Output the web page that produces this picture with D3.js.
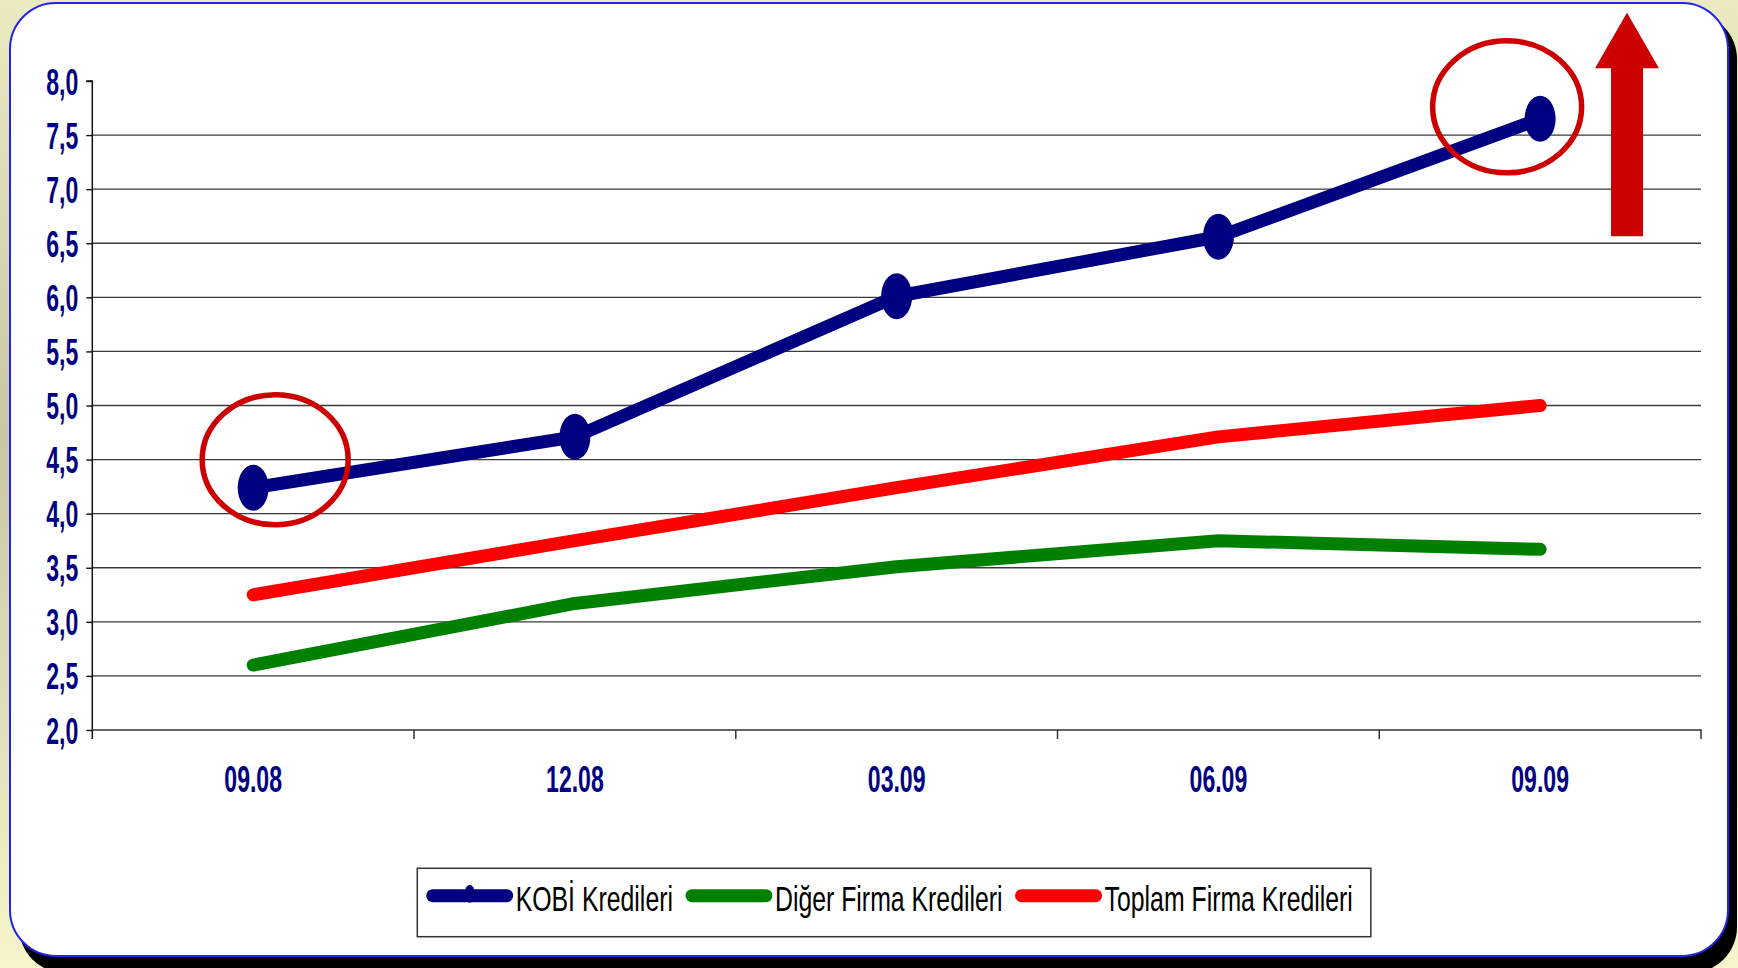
<!DOCTYPE html>
<html>
<head>
<meta charset="utf-8">
<script src="https://cdn.jsdelivr.net/npm/d3@7/dist/d3.min.js"></script>
<style>
  html, body { margin: 0; padding: 0; background: #fff; }
  svg { display: block; }
</style>
</head>
<body>
<svg id="chart" width="1738" height="968"></svg>
<script>
// ---- data ----
const categories = ["09.08", "12.08", "03.09", "06.09", "09.09"];
const kobiValues   = [4.24, 4.71, 6.01, 6.56, 7.65];
const digerValues  = [2.60, 3.17, 3.51, 3.75, 3.67];
const toplamValues = [3.25, 3.75, 4.24, 4.71, 5.00];
const seriesNames  = ["KOBİ Kredileri", "Diğer Firma Kredileri", "Toplam Firma Kredileri"];
const yTicks = [2.0, 2.5, 3.0, 3.5, 4.0, 4.5, 5.0, 5.5, 6.0, 6.5, 7.0, 7.5, 8.0];

const W = 1738, H = 968;
const FONT = "'Liberation Sans', Arial, sans-serif";
const svg = d3.select("#chart");
const defs = svg.append("defs");

// background gradient
const bg = defs.append("linearGradient").attr("id", "bg").attr("x1", 0).attr("y1", 0).attr("x2", 0).attr("y2", 1);
bg.append("stop").attr("offset", "0").attr("stop-color", "#ECEAC0");
bg.append("stop").attr("offset", "0.45").attr("stop-color", "#C9C7A3");
bg.append("stop").attr("offset", "1").attr("stop-color", "#F7F5CA");
svg.append("rect").attr("width", W).attr("height", H).attr("fill", "url(#bg)");

// panel shadow and panel
svg.append("rect").attr("x", 19).attr("y", 13).attr("width", 1718).attr("height", 960)
  .attr("rx", 46).attr("ry", 46).attr("fill", "#000");
svg.append("rect").attr("x", 10).attr("y", 3).attr("width", 1718).attr("height", 953)
  .attr("rx", 46).attr("ry", 46).attr("fill", "#fff").attr("stroke", "#2222ee").attr("stroke-width", 2);

// ---- scales ----
const plot = { left: 92.3, right: 1701, top: 81, bottom: 730 };
const x = d3.scaleBand().domain(categories).range([plot.left, plot.right]).padding(0);
const cx = d => x(d) + x.bandwidth() / 2;
const y = d3.scaleLinear().domain([2, 8]).range([plot.bottom, plot.top]);

const g = svg.append("g");

// gridlines
g.append("g").selectAll("line").data(yTicks.filter(t => t > 2 && t < 8)).join("line")
  .attr("x1", plot.left).attr("x2", plot.right)
  .attr("y1", d => y(d)).attr("y2", d => y(d))
  .attr("stroke", "#3a3a3a").attr("stroke-width", 1.4);

// y axis
const yAxis = d3.axisLeft(y).tickValues(yTicks).tickSize(6).tickPadding(8)
  .tickFormat(d => d3.format(".1f")(d).replace(".", ","));
const yg = g.append("g").attr("transform", `translate(${plot.left},0)`).call(yAxis);
yg.select(".domain").attr("stroke", "#111").attr("stroke-width", 1.5).attr("d", `M-6,${plot.top}H0V${plot.bottom + 9}`);
yg.selectAll(".tick line").attr("stroke", "#111").attr("stroke-width", 1.4);
yg.selectAll(".tick text")
  .attr("fill", "#000080").attr("font-family", FONT)
  .attr("font-weight", "bold").attr("font-size", 36).attr("dy", null)
  .attr("x", null)
  .attr("transform", "translate(-14,13) scale(0.64,1)")
  .attr("text-anchor", "end");

// x axis
const xAxis = d3.axisBottom(x).tickSize(0).tickPadding(0);
const xg = g.append("g").attr("transform", `translate(0,${plot.bottom})`).call(xAxis);
xg.select(".domain").attr("stroke", "#333").attr("stroke-width", 1.5).attr("d", `M${plot.left},0H${plot.right}V9`);
xg.selectAll(".tick text")
  .attr("fill", "#000080").attr("font-family", FONT)
  .attr("font-weight", "bold").attr("font-size", 36).attr("dy", null).attr("y", null)
  .attr("transform", "translate(0,62) scale(0.64,1)")
  .attr("text-anchor", "middle");
// boundary ticks between categories
xg.append("g").selectAll("line").data(categories.slice(1)).join("line")
  .attr("x1", d => x(d)).attr("x2", d => x(d)).attr("y1", 0).attr("y2", 9)
  .attr("stroke", "#333").attr("stroke-width", 1.5);

// ---- series ----
const series = [
  { name: seriesNames[0], values: kobiValues, color: "#000080", marker: true },
  { name: seriesNames[1], values: digerValues, color: "#008000", marker: false },
  { name: seriesNames[2], values: toplamValues, color: "#FF0000", marker: false }
];
const line = d3.line().x((d, i) => cx(categories[i])).y(d => y(d));

[series[1], series[2], series[0]].forEach(s => {
  g.append("path").datum(s.values).attr("d", line)
    .attr("fill", "none").attr("stroke", s.color).attr("stroke-width", 13)
    .attr("stroke-linecap", "round").attr("stroke-linejoin", "round");
  if (s.marker) {
    g.append("g").selectAll("ellipse").data(s.values).join("ellipse")
      .attr("cx", (d, i) => cx(categories[i])).attr("cy", d => y(d))
      .attr("rx", 15.5).attr("ry", 23).attr("fill", s.color);
  }
});

// ---- annotations ----
const hi = [
  { i: 0, dx: 22, dy: -28, rx: 73, ry: 65 },
  { i: 4, dx: -33, dy: -12, rx: 74.5, ry: 66 }
];
g.append("g").selectAll("ellipse").data(hi).join("ellipse")
  .attr("cx", d => cx(categories[d.i]) + d.dx)
  .attr("cy", d => y(kobiValues[d.i]) + d.dy)
  .attr("rx", d => d.rx).attr("ry", d => d.ry)
  .attr("fill", "none").attr("stroke", "#CC0000").attr("stroke-width", 5.5);

// up arrow
const ax = 1627;
svg.append("path")
  .attr("d", `M${ax},12.7 L${ax + 32},68.3 L${ax + 16},68.3 L${ax + 16},236.3 L${ax - 16},236.3 L${ax - 16},68.3 L${ax - 32},68.3 Z`)
  .attr("fill", "#CC0000");

// ---- legend ----
const LSX = 0.69;
const leg = svg.append("g");
const legBox = leg.append("rect").attr("x", 417.3).attr("y", 868.3).attr("height", 68.4)
  .attr("fill", "#fff").attr("stroke", "#333").attr("stroke-width", 1.5);
let lx = 426.7;
const ly = 895.7;
series.forEach((s, k) => {
  leg.append("line").attr("x1", lx + 6).attr("x2", lx + 80).attr("y1", ly).attr("y2", ly)
    .attr("stroke", s.color).attr("stroke-width", 13).attr("stroke-linecap", "round");
  if (s.marker) {
    leg.append("ellipse").attr("cx", lx + 43).attr("cy", ly - 2).attr("rx", 5).attr("ry", 9).attr("fill", s.color);
  }
  const t = leg.append("text")
    .attr("transform", `translate(${lx + 89},910.7) scale(${LSX},1)`)
    .attr("font-family", FONT)
    .attr("font-size", 36).attr("fill", "#000").text(s.name);
  const w = t.node().getComputedTextLength() * LSX;
  lx = lx + 89 + w + 13;
});
legBox.attr("width", lx - 417.3 + 5);
</script>
</body>
</html>
